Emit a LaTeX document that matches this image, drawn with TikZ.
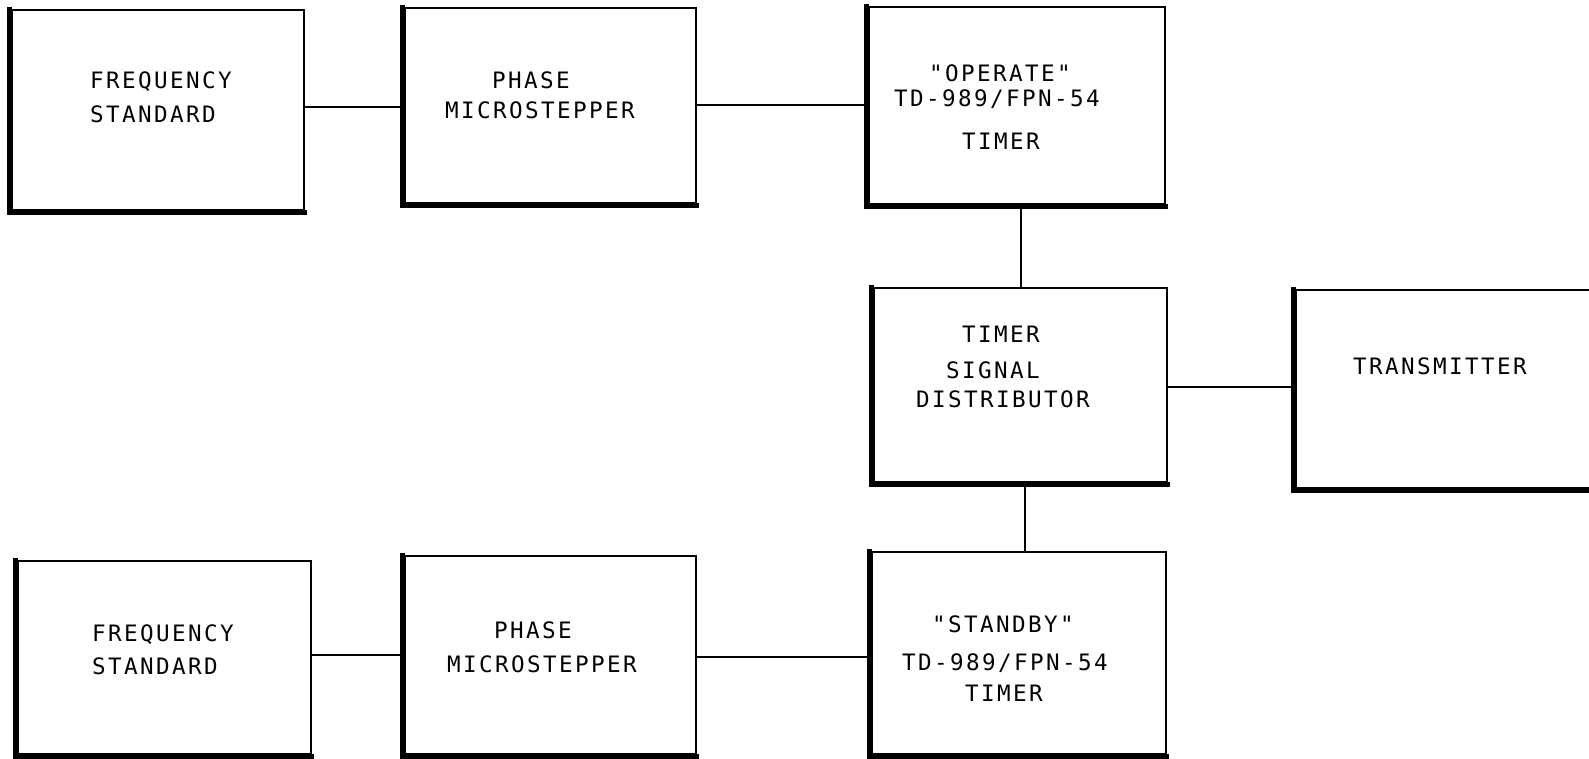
\documentclass[tikz,border=0pt]{standalone}
\usepackage{fontspec}
\newfontfamily\plotfont[LetterSpace=10.6]{DejaVu Sans Mono}
\usetikzlibrary{fit}
\tikzset{
  blk/.style={draw=black, line width=1.8pt, inner sep=0pt},
  heavyedge/.style={draw=black, line width=5pt, line cap=rect},
  wire/.style={draw=black, line width=2pt},
  lbl/.style={inner sep=0pt, anchor=base, font=\plotfont\fontsize{22.6}{27}\selectfont},
  lbll/.style={lbl, anchor=base west},
}
\begin{document}
\begin{tikzpicture}[x=1pt,y=-1pt]
\useasboundingbox (0,0) rectangle (1589,758);
\clip (0,0) rectangle (1589,758);

% blocks
\node[blk, fit={(12,10) (304,210)}]    (fs1)  {};
\node[blk, fit={(405,8) (696,203)}]    (pm1)  {};
\node[blk, fit={(869,7) (1165,204)}]   (op)   {};
\node[blk, fit={(874,288) (1167,482)}] (dist) {};
\node[blk, fit={(1296,290) (1600,488)}] (tx)  {};
\node[blk, fit={(18,561) (311,754)}]   (fs2)  {};
\node[blk, fit={(405,556) (696,754)}]  (pm2)  {};
\node[blk, fit={(872,552) (1166,754)}] (sb)   {};

% heavy left and bottom edges of each block
\foreach \b in {fs1,pm1,op,dist,tx,fs2,pm2,sb}
  \draw[heavyedge] ([xshift=-1.5pt]\b.north west) -- ([xshift=-1.5pt,yshift=-1.5pt]\b.south west)
                   -- ([yshift=-1.5pt]\b.south east);

% connectors
\draw[wire] (fs1.east |- 0,107) -- (pm1.west |- 0,107);
\draw[wire] (pm1.east |- 0,105) -- (op.west |- 0,105);
\draw[wire] (op.south -| 1021,0) -- (dist.north -| 1021,0);
\draw[wire] (dist.east |- 0,387) -- (tx.west |- 0,387);
\draw[wire] (dist.south -| 1025,0) -- (sb.north -| 1025,0);
\draw[wire] (fs2.east |- 0,655) -- (pm2.west |- 0,655);
\draw[wire] (pm2.east |- 0,657) -- (sb.west |- 0,657);

% block texts
\node[lbll] (fs1a) at (90,88)  {FREQUENCY};
\node[lbll] (fs1b) at (90,122) {STANDARD};
\node[lbl] (pm1a) at (531,88)  {PHASE};
\node[lbl] (pm1b) at (540,118) {MICROSTEPPER};
\node[lbl] (opa) at (1000,81)  {"OPERATE"};
\node[lbl] (opb) at (997,106)  {TD-989/FPN-54};
\node[lbl] (opc) at (1001,149) {TIMER};
\node[lbl] (dista) at (1001,342) {TIMER};
\node[lbl] (distb) at (993,378)  {SIGNAL};
\node[lbl] (distc) at (1003,407) {DISTRIBUTOR};
\node[lbl] (txa) at (1440,374) {TRANSMITTER};
\node[lbl] (sba) at (1003,632) {"STANDBY"};
\node[lbl] (sbb) at (1005,670) {TD-989/FPN-54};
\node[lbl] (sbc) at (1004,701) {TIMER};
\node[lbll] (fs2a) at (92,641) {FREQUENCY};
\node[lbll] (fs2b) at (92,674) {STANDARD};
\node[lbl] (pm2a) at (533,638) {PHASE};
\node[lbl] (pm2b) at (542,672) {MICROSTEPPER};
\end{tikzpicture}
\end{document}
